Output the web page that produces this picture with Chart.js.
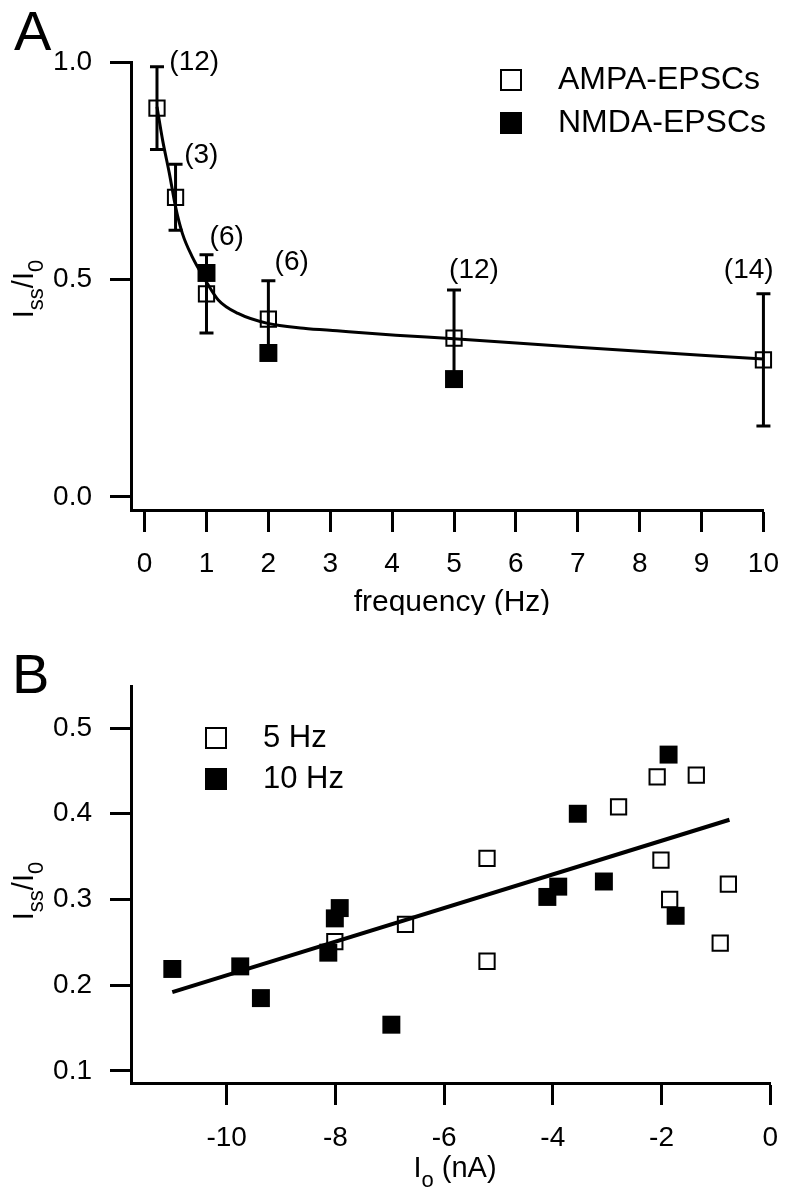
<!DOCTYPE html>
<html>
<head>
<meta charset="utf-8">
<title>Iss/I0 vs frequency and Io</title>
<script src="https://cdn.jsdelivr.net/npm/chart.js@4.4.1/dist/chart.umd.min.js"></script>
<style>
  body { margin: 0; background: #fff; }
  #wrap { position: relative; width: 794px; height: 1199px; }
  #chartA { position: absolute; left: 0; top: 0; }
  #chartB { position: absolute; left: 0; top: 615px; }
</style>
</head>
<body>
<div id="wrap">
  <canvas id="chartA" width="794" height="615"></canvas>
  <canvas id="chartB" width="794" height="584"></canvas>
</div>
<script>
/******************************************************
 * DATA - panel A (ratio vs stimulation frequency)
 ******************************************************/
const freqAmpa  = [0.2, 0.5, 1, 2, 5, 10];
const ampaRatio = [0.894, 0.689, 0.467, 0.409, 0.365, 0.315];
const ampaErr   = [0.095, 0.076, 0.090, 0.088, 0.111, 0.152];
const nCells    = ["(12)", "(3)", "(6)", "(6)", "(12)", "(14)"];
const nLabelX   = [0.40, 0.64, 1.05, 2.10, 4.92, 9.36];
const nLabelY   = [0.982, 0.768, 0.579, 0.522, 0.503, 0.503];

const freqNmda  = [1, 2, 5];
const nmdaRatio = [0.515, 0.331, 0.271];

const fitFreq  = [0.2, 0.29, 0.4, 0.5, 0.61, 0.77, 0.98, 1.19, 1.51, 1.99, 2.57, 3.11, 4.06, 5, 7, 10];
const fitRatio = [0.897, 0.821, 0.744, 0.667, 0.606, 0.552, 0.499, 0.453, 0.422, 0.399, 0.388, 0.382, 0.372, 0.364, 0.344, 0.317];

const freqTicks   = [0, 1, 2, 3, 4, 5, 6, 7, 8, 9, 10];
const ratioTicksA = [0, 0.5, 1.0];

/******************************************************
 * DATA - panel B (ratio vs initial amplitude)
 ******************************************************/
const amp5Hz   = [-8.01, -6.71, -5.21, -5.21, -2.79, -2.08, -1.36, -2.01, -1.85, -0.77, -0.92];
const ratio5Hz = [0.251, 0.271, 0.348, 0.228, 0.408, 0.443, 0.445, 0.346, 0.300, 0.318, 0.249];

const amp10Hz   = [-11.00, -9.75, -9.37, -8.13, -8.01, -7.92, -6.97, -4.10, -3.90, -3.54, -3.06, -1.87, -1.74];
const ratio10Hz = [0.219, 0.222, 0.185, 0.238, 0.278, 0.290, 0.154, 0.303, 0.315, 0.400, 0.321, 0.469, 0.281];

const regAmp   = [-11.0, -0.75];
const regRatio = [0.192, 0.393];

const ampTicks    = [-10, -8, -6, -4, -2, 0];
const ratioTicksB = [0.1, 0.2, 0.3, 0.4, 0.5];


/******************************************************
 * HELPERS
 ******************************************************/
const FONT = "'Liberation Sans', Arial, Helvetica, sans-serif";
const pts = (xs, ys) => xs.map((x, i) => ({ x: x, y: ys[i] }));

function axis(min, max, ticks, fmt, size, horizontal, pad, tickLen) {
  return {
    type: "linear",
    min: min,
    max: max,
    bounds: "data",
    grid: {
      drawOnChartArea: false,
      drawTicks: true,
      tickLength: tickLen,
      tickWidth: 3,
      color: "#000"
    },
    border: { display: true, width: 3, color: "#000" },
    ticks: {
      color: "#000",
      font: { family: FONT, size: 28 },
      padding: pad,
      autoSkip: false,
      maxRotation: 0,
      callback: fmt
    },
    afterBuildTicks: s => { s.ticks = ticks.map(v => ({ value: v })); },
    afterFit: s => { if (horizontal) s.height = size; else s.width = size; }
  };
}

// text pieces: [text, isSub]
function drawRuns(ctx, runs, cx, baseY, big, small, drop) {
  let w = 0;
  runs.forEach(r => {
    ctx.font = (r[1] ? small : big) + "px " + FONT;
    w += ctx.measureText(r[0]).width;
  });
  let x = cx - w / 2;
  ctx.textAlign = "left";
  ctx.textBaseline = "alphabetic";
  runs.forEach(r => {
    ctx.font = (r[1] ? small : big) + "px " + FONT;
    ctx.fillText(r[0], x, baseY + (r[1] ? drop : 0));
    x += ctx.measureText(r[0]).width;
  });
}

function drawYTitle(ctx, cx, cy) {
  ctx.save();
  ctx.translate(cx, cy);
  ctx.rotate(-Math.PI / 2);
  drawRuns(ctx, [["I", false], ["ss", true], ["/I", false], ["0", true]], 0, 0, 29, 22, 10);
  ctx.restore();
}

function legendRow(ctx, x, y, filled, text, size) {
  ctx.save();
  if (filled) {
    ctx.fillStyle = "#000";
    ctx.fillRect(x, y - 11, 22, 22);
  } else {
    ctx.strokeStyle = "#000";
    ctx.lineWidth = 2;
    ctx.strokeRect(x + 1, y - 10, 20, 20);
  }
  ctx.fillStyle = "#000";
  ctx.font = size + "px " + FONT;
  ctx.textAlign = "left";
  ctx.textBaseline = "middle";
  ctx.fillText(text, x + 58, y);
  ctx.restore();
}


/******************************************************
 * PANEL A
 ******************************************************/
const panelA = {
  id: "panelA",
  beforeDatasetsDraw(chart) {
    const { ctx, scales: { x, y } } = chart;
    ctx.save();
    ctx.strokeStyle = "#000";
    ctx.lineWidth = 3;
    freqAmpa.forEach((f, i) => {
      const px = x.getPixelForValue(f);
      const top = y.getPixelForValue(ampaRatio[i] + ampaErr[i]);
      const bot = y.getPixelForValue(ampaRatio[i] - ampaErr[i]);
      ctx.beginPath();
      ctx.moveTo(px, top); ctx.lineTo(px, bot);
      ctx.moveTo(px - 7, top); ctx.lineTo(px + 7, top);
      ctx.moveTo(px - 7, bot); ctx.lineTo(px + 7, bot);
      ctx.stroke();
    });
    ctx.restore();
  },
  afterDraw(chart) {
    const { ctx, scales: { x, y } } = chart;
    ctx.save();
    ctx.fillStyle = "#000";

    // cell counts
    ctx.font = "28px " + FONT;
    ctx.textAlign = "left";
    ctx.textBaseline = "alphabetic";
    nCells.forEach((t, i) => {
      ctx.fillText(t, x.getPixelForValue(nLabelX[i]), y.getPixelForValue(nLabelY[i]));
    });

    // panel letter
    ctx.font = "56px " + FONT;
    ctx.fillText("A", 14, 50);

    // axis titles
    drawRuns(ctx, [["frequency (Hz)", false]], 452, 611, 30, 22, 0);
    drawYTitle(ctx, 33, 289);

    legendRow(ctx, 500, 80, false, "AMPA-EPSCs", 32);
    legendRow(ctx, 500, 123, true, "NMDA-EPSCs", 32);
    ctx.restore();
  }
};

new Chart(document.getElementById("chartA"), {
  type: "scatter",
  data: {
    datasets: [
      {
        label: "NMDA-EPSCs",
        data: pts(freqNmda, nmdaRatio),
        pointStyle: "rect",
        pointRadius: 12.7,
        backgroundColor: "#000",
        borderWidth: 0,
        clip: false
      },
      {
        label: "AMPA-EPSCs",
        data: pts(freqAmpa, ampaRatio),
        pointStyle: "rect",
        pointRadius: 10.8,
        backgroundColor: "rgba(0,0,0,0)",
        borderColor: "#000",
        borderWidth: 2,
        clip: false
      },
      {
        label: "fit",
        data: pts(fitFreq, fitRatio),
        showLine: true,
        cubicInterpolationMode: "monotone",
        borderColor: "#000",
        borderWidth: 3,
        pointRadius: 0,
        clip: false
      }
    ]
  },
  options: {
    responsive: false,
    animation: false,
    events: [],
    layout: { autoPadding: false, padding: { left: 0, top: 62, right: 21, bottom: 0 } },
    plugins: { legend: { display: false }, tooltip: { enabled: false } },
    scales: {
      x: axis(-0.22, 10, freqTicks, v => String(v), 105, true, 15, 22),
      y: axis(-0.03, 1.0, ratioTicksA, v => v.toFixed(1), 131, false, 18, 21)
    }
  },
  plugins: [panelA]
});


/******************************************************
 * PANEL B
 ******************************************************/
const panelB = {
  id: "panelB",
  afterDraw(chart) {
    const { ctx } = chart;
    ctx.save();
    ctx.fillStyle = "#000";
    ctx.font = "56px " + FONT;
    ctx.textAlign = "left";
    ctx.textBaseline = "alphabetic";
    ctx.fillText("B", 12, 78);

    drawRuns(ctx, [["I", false], ["o", true], [" (nA)", false]], 455, 562, 29, 22, 10);
    drawYTitle(ctx, 33, 276);

    legendRow(ctx, 205, 123, false, "5 Hz", 31);
    legendRow(ctx, 205, 164, true, "10 Hz", 31);
    ctx.restore();
  }
};

new Chart(document.getElementById("chartB"), {
  type: "scatter",
  data: {
    datasets: [
      {
        label: "10 Hz",
        data: pts(amp10Hz, ratio10Hz),
        pointStyle: "rect",
        pointRadius: 12.7,
        backgroundColor: "#000",
        borderWidth: 0,
        clip: false
      },
      {
        label: "5 Hz",
        data: pts(amp5Hz, ratio5Hz),
        pointStyle: "rect",
        pointRadius: 10.8,
        backgroundColor: "rgba(0,0,0,0)",
        borderColor: "#000",
        borderWidth: 2,
        clip: false
      },
      {
        label: "regression",
        data: pts(regAmp, regRatio),
        showLine: true,
        borderColor: "#000",
        borderWidth: 4,
        pointRadius: 0,
        clip: false
      }
    ]
  },
  options: {
    responsive: false,
    animation: false,
    events: [],
    layout: { autoPadding: false, padding: { left: 0, top: 71, right: 21, bottom: 0 } },
    plugins: { legend: { display: false }, tooltip: { enabled: false } },
    scales: {
      x: axis(-11.76, 0, ampTicks, v => String(v), 116, true, 16, 22),
      y: axis(0.086, 0.549, ratioTicksB, v => v.toFixed(1), 131, false, 18, 21)
    }
  },
  plugins: [panelB]
});
</script>
</body>
</html>
